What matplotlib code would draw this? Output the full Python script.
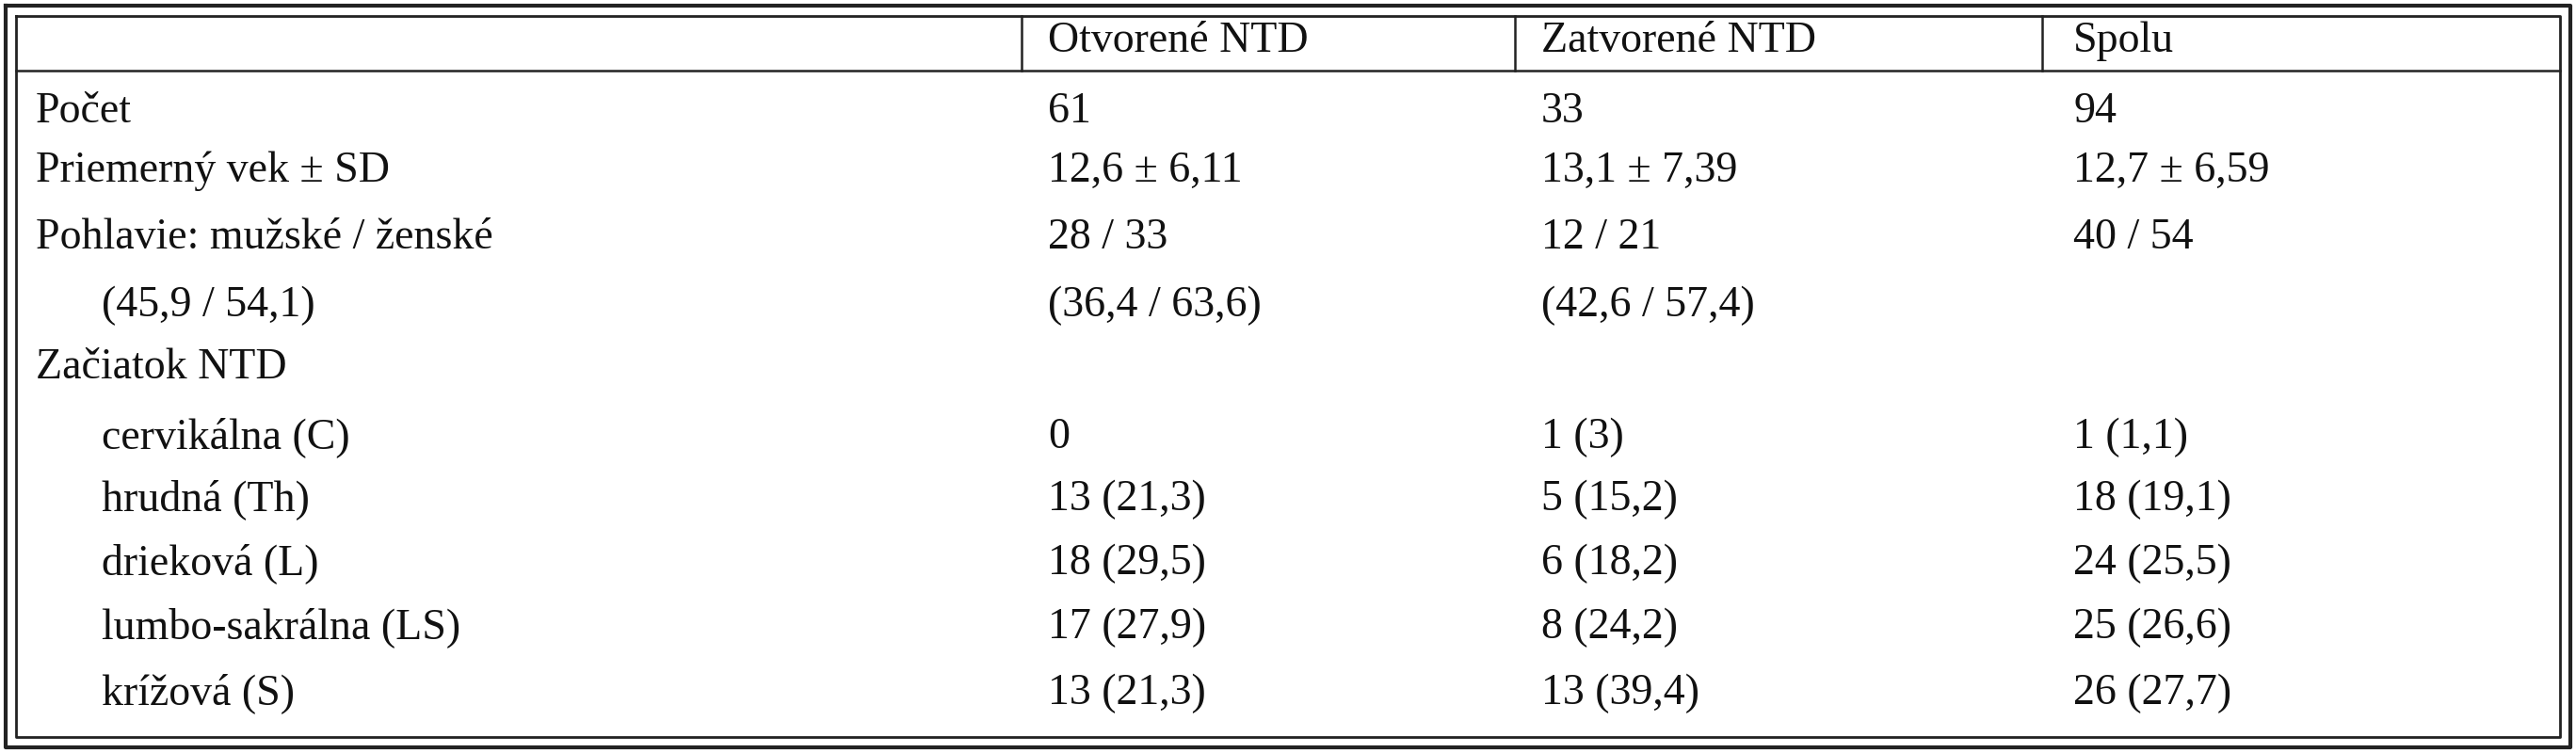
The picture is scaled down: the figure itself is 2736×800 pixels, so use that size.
import matplotlib
matplotlib.use("Agg")
import matplotlib.pyplot as plt

# table content
HEADERS = ["", "Otvorené NTD", "Zatvorené NTD", "Spolu"]
ROW_LABELS = [
    "Počet",
    "Priemerný vek ± SD",
    "Pohlavie: mužské / ženské",
    "(45,9 / 54,1)",
    "Začiatok NTD",
    "cervikálna (C)",
    "hrudná (Th)",
    "drieková (L)",
    "lumbo-sakrálna (LS)",
    "krížová (S)",
]
INDENTED = [False, False, False, True, False, True, True, True, True, True]
OPEN_NTD = ["61", "12,6 ± 6,11", "28 / 33", "(36,4 / 63,6)", "",
            "0", "13 (21,3)", "18 (29,5)", "17 (27,9)", "13 (21,3)"]
CLOSED_NTD = ["33", "13,1 ± 7,39", "12 / 21", "(42,6 / 57,4)", "",
              "1 (3)", "5 (15,2)", "6 (18,2)", "8 (24,2)", "13 (39,4)"]
TOTAL = ["94", "12,7 ± 6,59", "40 / 54", "", "",
         "1 (1,1)", "18 (19,1)", "24 (25,5)", "25 (26,6)", "26 (27,7)"]

W, H = 2736, 800
ROW_Y = [119, 182, 253, 325, 391, 465, 531, 599, 667, 737]
HEADER_Y = 44
COL_X = [38, 1113, 1637, 2202]
COL_LINES = [1085, 1609, 2169]
FONT = dict(family="Liberation Serif", fontsize=33, va="center", ha="left", color="#111111")


def main():
    fig = plt.figure(figsize=(W / 100, H / 100), dpi=100)
    ax = fig.add_axes([0, 0, 1, 1])
    ax.set_xlim(0, W)
    ax.set_ylim(H, 0)
    ax.axis("off")

    # double outer border
    ax.plot([6, W - 6, W - 6, 6, 6], [6, 6, H - 6, H - 6, 6], color="#222222", lw=3)
    ax.plot([17, W - 17, W - 17, 17, 17], [17, 17, H - 17, H - 17, 17], color="#222222", lw=2)
    # header separator and column lines
    ax.plot([17, W - 17], [75, 75], color="#222222", lw=1.8)
    for x in COL_LINES:
        ax.plot([x, x], [17, 75], color="#222222", lw=1.8)

    for x, h in zip(COL_X, HEADERS):
        ax.text(x, HEADER_Y, h, **FONT)

    for i, y in enumerate(ROW_Y):
        lx = COL_X[0] + (70 if INDENTED[i] else 0)
        ax.text(lx, y, ROW_LABELS[i], **FONT)
        ax.text(COL_X[1], y, OPEN_NTD[i], **FONT)
        ax.text(COL_X[2], y, CLOSED_NTD[i], **FONT)
        ax.text(COL_X[3], y, TOTAL[i], **FONT)

    fig.savefig("out.png", dpi=100)


if __name__ == "__main__":
    main()
